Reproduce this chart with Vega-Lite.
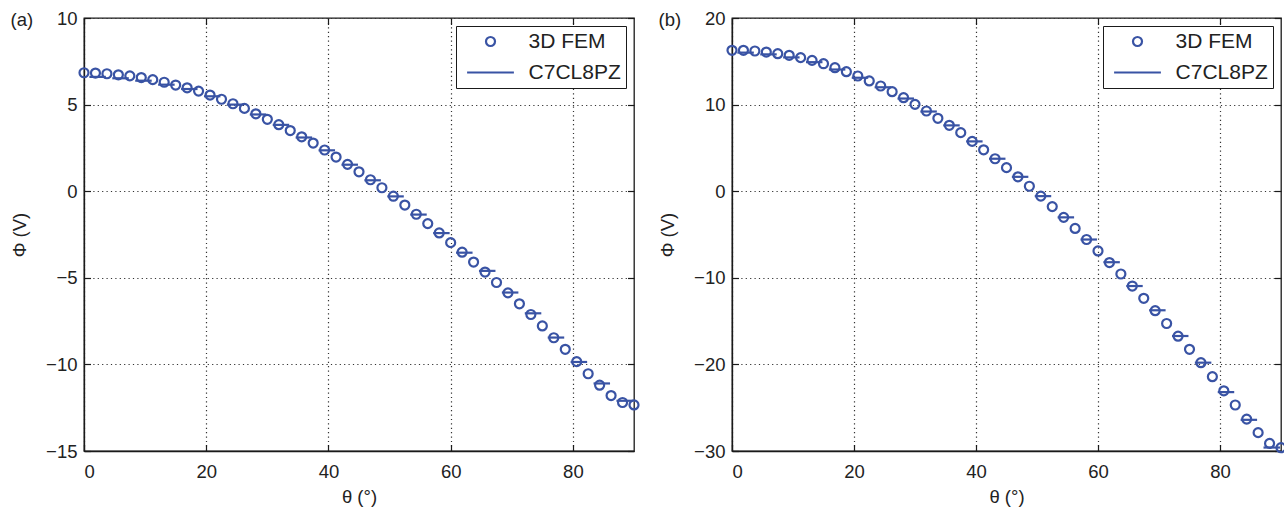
{
  "$schema": "https://vega.github.io/schema/vega-lite/v6.json",
  "background": "white",
  "padding": {"left": 9, "top": 8, "right": 0, "bottom": 0},
  "datasets": {
    "femA": [
      {"theta": 0, "phi": 6.84}, {"theta": 1.875, "phi": 6.82}, {"theta": 3.75, "phi": 6.78}, {"theta": 5.625, "phi": 6.72},
      {"theta": 7.5, "phi": 6.66}, {"theta": 9.375, "phi": 6.56}, {"theta": 11.25, "phi": 6.44}, {"theta": 13.125, "phi": 6.29},
      {"theta": 15, "phi": 6.13}, {"theta": 16.875, "phi": 5.97}, {"theta": 18.75, "phi": 5.78}, {"theta": 20.625, "phi": 5.55},
      {"theta": 22.5, "phi": 5.31}, {"theta": 24.375, "phi": 5.05}, {"theta": 26.25, "phi": 4.78}, {"theta": 28.125, "phi": 4.47},
      {"theta": 30, "phi": 4.15}, {"theta": 31.875, "phi": 3.84}, {"theta": 33.75, "phi": 3.5}, {"theta": 35.625, "phi": 3.14},
      {"theta": 37.5, "phi": 2.78}, {"theta": 39.375, "phi": 2.38}, {"theta": 41.25, "phi": 1.97}, {"theta": 43.125, "phi": 1.55},
      {"theta": 45, "phi": 1.12}, {"theta": 46.875, "phi": 0.66}, {"theta": 48.75, "phi": 0.2}, {"theta": 50.625, "phi": -0.29},
      {"theta": 52.5, "phi": -0.8}, {"theta": 54.375, "phi": -1.33}, {"theta": 56.25, "phi": -1.87}, {"theta": 58.125, "phi": -2.41},
      {"theta": 60, "phi": -2.97}, {"theta": 61.875, "phi": -3.52}, {"theta": 63.75, "phi": -4.09}, {"theta": 65.625, "phi": -4.67},
      {"theta": 67.5, "phi": -5.27}, {"theta": 69.375, "phi": -5.87}, {"theta": 71.25, "phi": -6.5}, {"theta": 73.125, "phi": -7.12},
      {"theta": 75, "phi": -7.78}, {"theta": 76.875, "phi": -8.46}, {"theta": 78.75, "phi": -9.13}, {"theta": 80.625, "phi": -9.84},
      {"theta": 82.5, "phi": -10.54}, {"theta": 84.375, "phi": -11.2}, {"theta": 86.25, "phi": -11.8}, {"theta": 88.125, "phi": -12.2},
      {"theta": 90, "phi": -12.34}
    ],
    "modA": [
      {"t1": 0.88, "t2": 3.58, "phi": 6.6}, {"t1": 4.63, "t2": 7.33, "phi": 6.52}, {"t1": 8.38, "t2": 11.08, "phi": 6.38},
      {"t1": 12.13, "t2": 14.83, "phi": 6.15}, {"t1": 15.88, "t2": 18.58, "phi": 5.9}, {"t1": 19.63, "t2": 22.33, "phi": 5.48},
      {"t1": 23.38, "t2": 26.08, "phi": 5.0}, {"t1": 27.13, "t2": 29.83, "phi": 4.43}, {"t1": 30.88, "t2": 33.58, "phi": 3.83},
      {"t1": 34.63, "t2": 37.33, "phi": 3.1}, {"t1": 38.38, "t2": 41.08, "phi": 2.36}, {"t1": 42.13, "t2": 44.83, "phi": 1.53},
      {"t1": 45.88, "t2": 48.58, "phi": 0.63}, {"t1": 49.63, "t2": 52.33, "phi": -0.3}, {"t1": 53.38, "t2": 56.08, "phi": -1.35},
      {"t1": 57.13, "t2": 59.83, "phi": -2.42}, {"t1": 60.88, "t2": 63.58, "phi": -3.55}, {"t1": 64.63, "t2": 67.33, "phi": -4.6},
      {"t1": 68.38, "t2": 71.08, "phi": -5.85}, {"t1": 72.13, "t2": 74.83, "phi": -7.05}, {"t1": 75.88, "t2": 78.58, "phi": -8.45},
      {"t1": 79.63, "t2": 82.33, "phi": -9.86}, {"t1": 83.38, "t2": 86.08, "phi": -11.1}, {"t1": 87.13, "t2": 89.83, "phi": -12.1}
    ],
    "femB": [
      {"theta": 0, "phi": 16.27}, {"theta": 1.875, "phi": 16.27}, {"theta": 3.75, "phi": 16.19}, {"theta": 5.625, "phi": 16.07},
      {"theta": 7.5, "phi": 15.88}, {"theta": 9.375, "phi": 15.69}, {"theta": 11.25, "phi": 15.42}, {"theta": 13.125, "phi": 15.11},
      {"theta": 15, "phi": 14.72}, {"theta": 16.875, "phi": 14.26}, {"theta": 18.75, "phi": 13.8}, {"theta": 20.625, "phi": 13.3},
      {"theta": 22.5, "phi": 12.73}, {"theta": 24.375, "phi": 12.15}, {"theta": 26.25, "phi": 11.49}, {"theta": 28.125, "phi": 10.8},
      {"theta": 30, "phi": 10.03}, {"theta": 31.875, "phi": 9.26}, {"theta": 33.75, "phi": 8.42}, {"theta": 35.625, "phi": 7.61},
      {"theta": 37.5, "phi": 6.76}, {"theta": 39.375, "phi": 5.75}, {"theta": 41.25, "phi": 4.78}, {"theta": 43.125, "phi": 3.75},
      {"theta": 45, "phi": 2.72}, {"theta": 46.875, "phi": 1.66}, {"theta": 48.75, "phi": 0.57}, {"theta": 50.625, "phi": -0.57},
      {"theta": 52.5, "phi": -1.78}, {"theta": 54.375, "phi": -3.02}, {"theta": 56.25, "phi": -4.3}, {"theta": 58.125, "phi": -5.58},
      {"theta": 60, "phi": -6.9}, {"theta": 61.875, "phi": -8.24}, {"theta": 63.75, "phi": -9.56}, {"theta": 65.625, "phi": -10.95},
      {"theta": 67.5, "phi": -12.37}, {"theta": 69.375, "phi": -13.8}, {"theta": 71.25, "phi": -15.28}, {"theta": 73.125, "phi": -16.74},
      {"theta": 75, "phi": -18.26}, {"theta": 76.875, "phi": -19.8}, {"theta": 78.75, "phi": -21.42}, {"theta": 80.625, "phi": -23.05},
      {"theta": 82.5, "phi": -24.69}, {"theta": 84.375, "phi": -26.32}, {"theta": 86.25, "phi": -27.88}, {"theta": 88.125, "phi": -29.12},
      {"theta": 90, "phi": -29.62}
    ],
    "modB": [
      {"t1": 0.88, "t2": 3.58, "phi": 16.0}, {"t1": 4.63, "t2": 7.33, "phi": 15.8}, {"t1": 8.38, "t2": 11.08, "phi": 15.45},
      {"t1": 12.13, "t2": 14.83, "phi": 14.9}, {"t1": 15.88, "t2": 18.58, "phi": 14.05}, {"t1": 19.63, "t2": 22.33, "phi": 13.1},
      {"t1": 23.38, "t2": 26.08, "phi": 12.0}, {"t1": 27.13, "t2": 29.83, "phi": 10.7}, {"t1": 30.88, "t2": 33.58, "phi": 9.2},
      {"t1": 34.63, "t2": 37.33, "phi": 7.6}, {"t1": 38.38, "t2": 41.08, "phi": 5.75}, {"t1": 42.13, "t2": 44.83, "phi": 3.75},
      {"t1": 45.88, "t2": 48.58, "phi": 1.66}, {"t1": 49.63, "t2": 52.33, "phi": -0.57}, {"t1": 53.38, "t2": 56.08, "phi": -3.02},
      {"t1": 57.13, "t2": 59.83, "phi": -5.58}, {"t1": 60.88, "t2": 63.58, "phi": -8.2}, {"t1": 64.63, "t2": 67.33, "phi": -10.95},
      {"t1": 68.38, "t2": 71.08, "phi": -13.75}, {"t1": 72.13, "t2": 74.83, "phi": -16.72}, {"t1": 75.88, "t2": 78.58, "phi": -19.8},
      {"t1": 79.63, "t2": 82.33, "phi": -23.2}, {"t1": 83.38, "t2": 86.08, "phi": -26.4}, {"t1": 87.13, "t2": 89.83, "phi": -29.6}
    ]
  },
  "config": {
    "font": "Liberation Sans",
    "view": {"stroke": "#1a1a1a", "strokeWidth": 1.3},
    "axis": {
      "labelFont": "Liberation Sans", "labelFontSize": 18.5, "labelColor": "#222",
      "titleFont": "Liberation Sans", "titleFontSize": 18.5, "titleFontWeight": "normal", "titleColor": "#222",
      "domainColor": "#1a1a1a", "domainWidth": 1.3,
      "tickColor": "#1a1a1a", "tickWidth": 1.2, "tickSize": -6.5,
      "gridColor": "#333", "gridDash": [1.2, 3.2], "gridWidth": 1.2, "gridOpacity": 1
    },
    "title": {"font": "Liberation Sans", "fontSize": 18.5, "fontWeight": "normal", "color": "#222"},
    "legend": {
      "labelFont": "Liberation Sans", "labelFontSize": 21, "labelColor": "#222",
      "orient": "top-right", "offset": 8, "padding": 5,
      "strokeColor": "#1a1a1a", "fillColor": "white",
      "symbolSize": 81, "symbolStrokeWidth": 2.2, "symbolFillColor": "transparent", "rowPadding": 9,
      "symbolOffset": 19, "labelOffset": 27.6
    }
  },
  "spacing": 13,
  "resolve": {
    "scale": {"x": "independent", "y": "independent", "color": "independent", "shape": "independent"},
    "legend": {"color": "independent", "shape": "independent"}
  },
  "hconcat": [
    {
      "width": 550, "height": 433,
      "title": {"text": "(a)", "anchor": "start", "frame": "bounds", "offset": 0, "baseline": "middle", "dy": 29},
      "resolve": {"axis": {"x": "independent", "y": "independent"}},
      "layer": [
        {
          "data": {"name": "femA"},
          "mark": {"type": "point", "filled": false, "size": 81, "strokeWidth": 2.2, "opacity": 1},
          "encoding": {
            "x": {"field": "theta", "type": "quantitative", "scale": {"domain": [0, 90], "nice": false},
                  "axis": {"values": [0, 20, 40, 60, 80], "title": "θ (°)", "labelPadding": 18, "titlePadding": 6, "grid": true}},
            "y": {"field": "phi", "type": "quantitative", "scale": {"domain": [-15, 10], "nice": false},
                  "axis": {"values": [-15, -10, -5, 0, 5, 10], "title": "Φ (V)", "labelPadding": 13.5, "titlePadding": 16, "grid": true}},
            "color": {"datum": "3D FEM", "type": "nominal",
              "scale": {"domain": ["3D FEM", "C7CL8PZ"], "range": ["#3953a4", "#3953a4"]},
              "legend": {"title": null}},
            "shape": {"datum": "3D FEM", "type": "nominal",
              "scale": {"domain": ["3D FEM", "C7CL8PZ"], "range": ["circle", "M-5.2,0L5.2,0"]},
              "legend": {"title": null}}
          }
        },
        {
          "data": {"name": "modA"},
          "mark": {"type": "rule", "strokeWidth": 2.2},
          "encoding": {
            "x": {"field": "t1", "type": "quantitative", "scale": {"domain": [0, 90], "nice": false},
                  "axis": {"orient": "top", "values": [0, 20, 40, 60, 80], "labels": false, "title": null, "grid": false, "domain": false}},
            "x2": {"field": "t2"},
            "y": {"field": "phi", "type": "quantitative", "scale": {"domain": [-15, 10], "nice": false},
                  "axis": {"orient": "right", "values": [-15, -10, -5, 0, 5, 10], "labels": false, "title": null, "grid": false, "domain": false}},
            "color": {"datum": "C7CL8PZ", "type": "nominal"}
          }
        }
      ]
    },
    {
      "width": 549, "height": 433,
      "title": {"text": "(b)", "anchor": "start", "frame": "bounds", "offset": 0, "baseline": "middle", "dy": 29},
      "resolve": {"axis": {"x": "independent", "y": "independent"}},
      "layer": [
        {
          "data": {"name": "femB"},
          "mark": {"type": "point", "filled": false, "size": 81, "strokeWidth": 2.2, "opacity": 1},
          "encoding": {
            "x": {"field": "theta", "type": "quantitative", "scale": {"domain": [0, 90], "nice": false},
                  "axis": {"values": [0, 20, 40, 60, 80], "title": "θ (°)", "labelPadding": 18, "titlePadding": 6, "grid": true}},
            "y": {"field": "phi", "type": "quantitative", "scale": {"domain": [-30, 20], "nice": false},
                  "axis": {"values": [-30, -20, -10, 0, 10, 20], "title": "Φ (V)", "labelPadding": 13.5, "titlePadding": 16, "grid": true}},
            "color": {"datum": "3D FEM", "type": "nominal",
              "scale": {"domain": ["3D FEM", "C7CL8PZ"], "range": ["#3953a4", "#3953a4"]},
              "legend": {"title": null}},
            "shape": {"datum": "3D FEM", "type": "nominal",
              "scale": {"domain": ["3D FEM", "C7CL8PZ"], "range": ["circle", "M-5.2,0L5.2,0"]},
              "legend": {"title": null}}
          }
        },
        {
          "data": {"name": "modB"},
          "mark": {"type": "rule", "strokeWidth": 2.2},
          "encoding": {
            "x": {"field": "t1", "type": "quantitative", "scale": {"domain": [0, 90], "nice": false},
                  "axis": {"orient": "top", "values": [0, 20, 40, 60, 80], "labels": false, "title": null, "grid": false, "domain": false}},
            "x2": {"field": "t2"},
            "y": {"field": "phi", "type": "quantitative", "scale": {"domain": [-30, 20], "nice": false},
                  "axis": {"orient": "right", "values": [-30, -20, -10, 0, 10, 20], "labels": false, "title": null, "grid": false, "domain": false}},
            "color": {"datum": "C7CL8PZ", "type": "nominal"}
          }
        }
      ]
    }
  ]
}
